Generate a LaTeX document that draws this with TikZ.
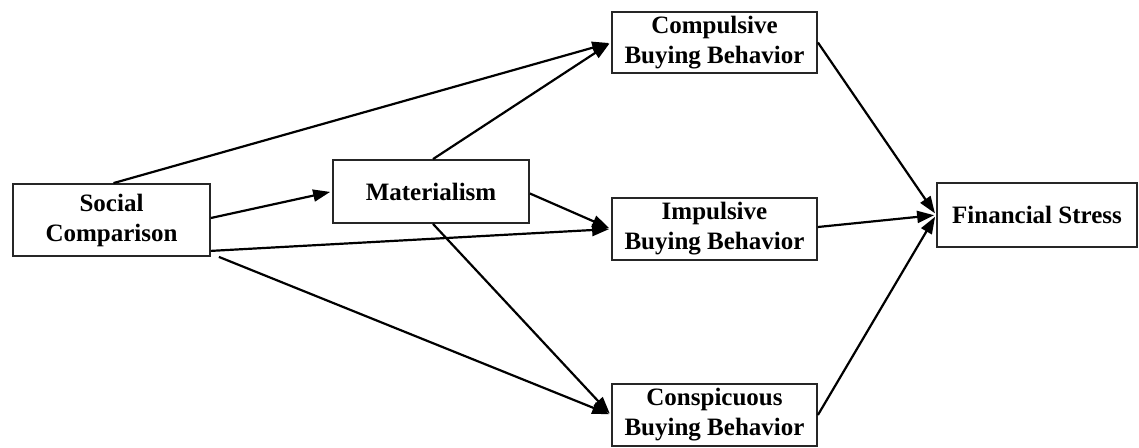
\documentclass[tikz,border=0pt]{standalone}
\usepackage{fontspec}
\setmainfont{Liberation Serif}
\usetikzlibrary{arrows.meta}
\begin{document}
\begin{tikzpicture}[x=0.5pt,y=-0.5pt,
  box/.style={draw=black!85, line width=0.9pt, rectangle, inner sep=0pt, align=center,
    font=\fontsize{12.5}{15}\selectfont\bfseries},
  arr/.style={line width=1.1pt, -{Triangle[length=8.5pt,width=6pt]}, shorten >=1pt}]
\useasboundingbox (0,0) rectangle (1139,448);
\node[box, minimum width=98.5pt, minimum height=36pt] (sc) at (111.5,220) {Social\\Comparison};
\node[box, minimum width=98pt, minimum height=31.5pt] (mat) at (431,191.5) {Materialism};
\node[box, minimum width=102.5pt, minimum height=30.5pt] (cb) at (714.5,42.5) {Compulsive\\Buying Behavior};
\node[box, minimum width=102.5pt, minimum height=31pt] (ib) at (714.5,229) {Impulsive\\Buying Behavior};
\node[box, minimum width=102.5pt, minimum height=31pt] (cob) at (714.5,415) {Conspicuous\\Buying Behavior};
\node[box, minimum width=100pt, minimum height=32pt] (fs) at (1037,215) {Financial Stress};
\draw[arr] ([xshift=1pt]sc.north) -- (cb.west);
\draw[arr] ([yshift=1pt]sc.east) -- (mat.west);
\draw[arr] ([yshift=3pt]sc.south east) -- (ib.west);
\draw[arr] ([xshift=4pt]sc.south east) -- (cob.west);
\draw[arr] ([xshift=1pt]mat.north) -- (cb.west);
\draw[arr] ([yshift=-1pt]mat.east) -- (ib.west);
\draw[arr] ([xshift=1pt]mat.south) -- (cob.west);
\draw[arr] (cb.east) -- (fs.west);
\draw[arr] ([yshift=1pt]ib.east) -- (fs.west);
\draw[arr] (cob.east) -- (fs.west);
\end{tikzpicture}
\end{document}
